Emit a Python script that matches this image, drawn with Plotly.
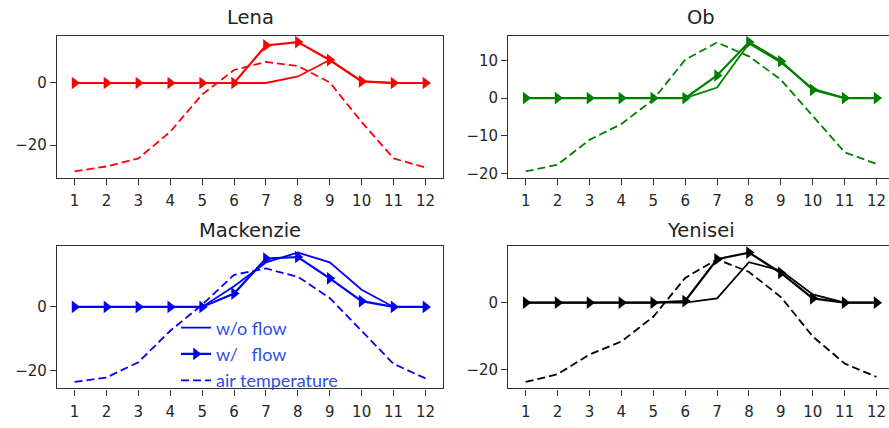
import plotly.graph_objects as go

months = list(range(1, 13))

# Lena
lena_noflow = [0, 0, 0, 0, 0, 0, 0, 2.1, 7.4, 0.5, 0, 0]
lena_flow = [0, 0, 0, 0, 0, 0, 12.1, 13.2, 7.4, 0.5, 0, 0]
lena_air = [-28.5, -26.9, -24.3, -15.7, -3.7, 4.2, 6.8, 5.5, 0.2, -12.6, -24.3, -27.2]

# Ob
ob_noflow = [0, 0, 0, 0, 0, 0, 2.8, 14.5, 9.5, 2.5, 0, 0]
ob_flow = [0, 0, 0, 0, 0, 0, 6.0, 14.9, 9.8, 2.2, 0, 0]
ob_air = [-19.5, -17.7, -11.1, -6.9, -0.4, 10.2, 14.8, 11.1, 4.9, -4.9, -14.4, -17.5]

# Mackenzie
mack_noflow = [0, 0, 0, 0, 0, 6.5, 14.0, 17.1, 14.0, 5.4, 0, 0]
mack_flow = [0, 0, 0, 0, 0, 4.2, 15.2, 15.7, 9.0, 1.8, 0, 0]
mack_air = [-23.6, -22.2, -17.4, -7.5, 0.7, 10.1, 12.1, 9.5, 2.8, -7.5, -17.9, -22.5]

# Yenisei
yen_noflow = [0, 0, 0, 0, 0, 0, 1.3, 12.1, 9.6, 2.5, 0, 0]
yen_flow = [0, 0, 0, 0, 0, 0.5, 13.0, 15.0, 8.9, 1.3, 0, 0]
yen_air = [-23.7, -21.4, -15.5, -11.6, -4.2, 7.4, 13.0, 9.2, 1.7, -10.1, -18.2, -22.2]

panels = [
    ("Lena", "red", lena_noflow, lena_flow, lena_air, [0, -20]),
    ("Ob", "green", ob_noflow, ob_flow, ob_air, [10, 0, -10, -20]),
    ("Mackenzie", "blue", mack_noflow, mack_flow, mack_air, [0, -20]),
    ("Yenisei", "black", yen_noflow, yen_flow, yen_air, [0, -20]),
]

W, H = 889, 428
x_left = [57 / W, 443 / W]
x_right = [508.3 / W, 1.0]
y_top = [(H - 180) / H, (H - 36) / H]
y_bot = [(H - 393) / H, (H - 249) / H]
domains = [(x_left, y_top), (x_right, y_top), (x_left, y_bot), (x_right, y_bot)]

fig = go.Figure()
tick_font = dict(family="DejaVu Sans", size=15, color="#262626")

for i, (name, color, noflow, flow, air, yt) in enumerate(panels):
    k = "" if i == 0 else str(i + 1)
    xa, ya = "x" + k, "y" + k
    legend_on = name == "Mackenzie"
    fig.add_trace(go.Scatter(
        x=months, y=noflow, mode="lines", name="w/o flow",
        line=dict(color=color, width=1.8), xaxis=xa, yaxis=ya,
        showlegend=legend_on, legendgroup="a"))
    fig.add_trace(go.Scatter(
        x=months, y=flow, mode="lines+markers", name="w/\u00a0\u00a0 flow",
        line=dict(color=color, width=2.2),
        marker=dict(symbol="triangle-right", size=11, color=color),
        xaxis=xa, yaxis=ya, showlegend=legend_on, legendgroup="b"))
    fig.add_trace(go.Scatter(
        x=months, y=air, mode="lines", name="air temperature",
        line=dict(color=color, width=1.8, dash="8px,4px"),
        xaxis=xa, yaxis=ya, showlegend=legend_on, legendgroup="c"))

    allv = noflow + flow + air
    lo, hi = min(allv), max(allv)
    pad = 0.05 * (hi - lo)
    xd, yd = domains[i]
    right_col = i in (1, 3)
    xr = [0.455, 12.39] if right_col else [0.45, 12.55]

    ax = dict(
        domain=xd, range=xr, anchor=ya, tickmode="array", tickvals=months,
        ticks="outside", ticklen=6, tickwidth=1.2, tickcolor="#333",
        showline=True, linecolor="#333", linewidth=1.3, mirror=True,
        showgrid=False, zeroline=False, tickfont=tick_font,
        ticklabelstandoff=3,
    )
    ay = dict(
        domain=yd, range=[lo - pad, hi + pad], anchor=xa, tickmode="array",
        tickvals=yt, ticks="outside", ticklen=6, tickwidth=1.2,
        tickcolor="#333", showline=True, linecolor="#333", linewidth=1.3,
        mirror=not right_col, showgrid=False, zeroline=False,
        tickfont=tick_font,
    )
    fig.update_layout({"xaxis" + k: ax, "yaxis" + k: ay})

    fig.add_annotation(
        text=name, xref=xa, x=6.5, yref="paper",
        y=1 - (18 if i < 2 else 233) / H, yanchor="middle",
        showarrow=False, font=dict(family="DejaVu Sans", size=19.5, color="#222"))

fig.update_layout(
    width=W, height=H, margin=dict(l=0, r=0, t=0, b=0),
    plot_bgcolor="white", paper_bgcolor="white",
    legend=dict(
        x=176 / W, y=1 - 313 / H, xanchor="left", yanchor="top",
        bgcolor="rgba(0,0,0,0)", borderwidth=0,
        font=dict(family="Lato", size=18, color="#3050e8"),
        traceorder="grouped", tracegroupgap=0, itemwidth=30,
    ),
)

fig.write_html("out.html")
